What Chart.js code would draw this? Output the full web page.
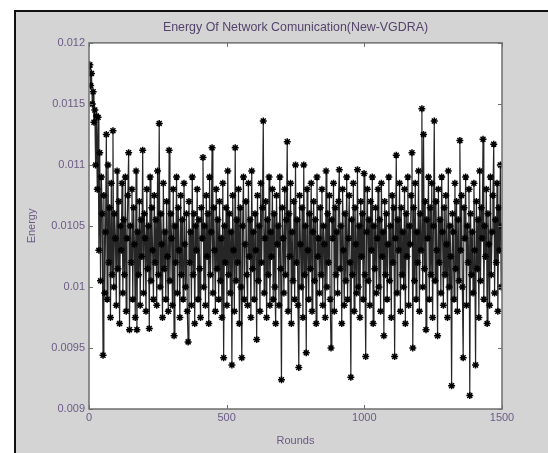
<!DOCTYPE html>
<html>
<head>
<meta charset="utf-8">
<script src="https://cdn.jsdelivr.net/npm/chart.js@4.4.1/dist/chart.umd.min.js"></script>
<style>
  html, body { margin: 0; padding: 0; background: #fff; }
  #wrap { position: relative; width: 548px; height: 453px; overflow: hidden; }
  #panel {
    position: absolute; left: 14px; top: 10px; right: 0; bottom: 0;
    background: #d4d4d4; border-left: 2px solid #111; border-top: 2px solid #111;
  }
  canvas { position: absolute; left: 0; top: 0; }
</style>
</head>
<body>
<div id="wrap">
  <div id="panel"></div>
  <canvas id="energyChart" width="548" height="453"></canvas>
</div>
<script>
// Rounds are sampled every 3 rounds, 0..1500
const ROUND_STEP = 3;

const energy = [
  0.01180, 0.01182, 0.01165, 0.01175, 0.01150, 0.01160, 0.01135, 0.01145, 0.01100, 0.01140,
  0.01080, 0.01139, 0.01030, 0.01110, 0.01005, 0.01090, 0.01060, 0.00944, 0.01075, 0.00995,
  0.01045, 0.01125, 0.00990, 0.01100, 0.01020, 0.01065, 0.00975, 0.01085, 0.01010, 0.01128,
  0.01000, 0.01060, 0.01040, 0.00985, 0.01095, 0.01015, 0.01070, 0.00970, 0.01050, 0.01030,
  0.01085, 0.00995, 0.01055, 0.01010, 0.01090, 0.00980, 0.01040, 0.01075, 0.01110, 0.00965,
  0.01050, 0.01020, 0.01080, 0.00990, 0.01065, 0.01035, 0.00975, 0.01095, 0.00965, 0.01045,
  0.01010, 0.01070, 0.00985, 0.01055, 0.01025, 0.01112, 0.00995, 0.01060, 0.01040, 0.00980,
  0.01080, 0.01015, 0.01050, 0.00966, 0.01090, 0.01005, 0.01065, 0.01030, 0.00990, 0.01075,
  0.01020, 0.01055, 0.00985, 0.01095, 0.01010, 0.01134, 0.01000, 0.01060, 0.01035, 0.00975,
  0.01085, 0.01015, 0.01045, 0.00990, 0.01070, 0.01025, 0.00980, 0.01112, 0.01005, 0.01060,
  0.01040, 0.00985, 0.01080, 0.00960, 0.01050, 0.01020, 0.01090, 0.00995, 0.01065, 0.01030,
  0.00975, 0.01075, 0.01010, 0.01055, 0.00990, 0.01085, 0.01035, 0.01000, 0.01060, 0.00980,
  0.00955, 0.01070, 0.01020, 0.01045, 0.00985, 0.01090, 0.01010, 0.01060, 0.00970, 0.01050,
  0.01030, 0.01080, 0.00990, 0.01055, 0.01015, 0.00975, 0.01065, 0.01040, 0.01106, 0.01000,
  0.01050, 0.00985, 0.01075, 0.01025, 0.01060, 0.00970, 0.01090, 0.01010, 0.01045, 0.01114,
  0.00995, 0.01065, 0.01030, 0.00980, 0.01080, 0.01015, 0.01055, 0.00990, 0.01070, 0.01005,
  0.01040, 0.00975, 0.01085, 0.00942, 0.01050, 0.01020, 0.01065, 0.00985, 0.01095, 0.01010,
  0.01060, 0.00995, 0.01045, 0.00936, 0.01075, 0.01030, 0.00980, 0.01114, 0.01005, 0.01055,
  0.01020, 0.01080, 0.00970, 0.01065, 0.01000, 0.00942, 0.01050, 0.01090, 0.00990, 0.01035,
  0.01070, 0.01010, 0.00985, 0.01085, 0.01025, 0.01055, 0.00975, 0.01095, 0.01015, 0.01045,
  0.00990, 0.01060, 0.01030, 0.00957, 0.01075, 0.01005, 0.01050, 0.00980, 0.01085, 0.01020,
  0.01065, 0.01136, 0.00995, 0.01040, 0.01070, 0.00975, 0.01055, 0.01010, 0.01090, 0.00985,
  0.01045, 0.01025, 0.01080, 0.00990, 0.01060, 0.01000, 0.00970, 0.01075, 0.01035, 0.01050,
  0.00985, 0.01090, 0.01015, 0.00924, 0.01065, 0.01040, 0.00995, 0.01080, 0.01010, 0.01055,
  0.01119, 0.00980, 0.01060, 0.01025, 0.01085, 0.00970, 0.01045, 0.01005, 0.01070, 0.00990,
  0.01100, 0.01020, 0.01055, 0.00985, 0.00934, 0.01075, 0.01035, 0.01000, 0.01065, 0.00975,
  0.01100, 0.01010, 0.01050, 0.00946, 0.01080, 0.01030, 0.00990, 0.01060, 0.01015, 0.01085,
  0.00980, 0.01045, 0.01070, 0.01005, 0.01055, 0.00970, 0.01090, 0.01025, 0.01040, 0.00995,
  0.01065, 0.01010, 0.01080, 0.00985, 0.01050, 0.01035, 0.00975, 0.01095, 0.01000, 0.01060,
  0.01020, 0.01075, 0.00990, 0.00950, 0.01055, 0.01040, 0.01085, 0.00980, 0.01065, 0.01010,
  0.01045, 0.00995, 0.01070, 0.01096, 0.01015, 0.01050, 0.00970, 0.01080, 0.01030, 0.00985,
  0.01060, 0.01005, 0.01090, 0.00990, 0.01040, 0.01075, 0.01020, 0.00926, 0.01055, 0.01010,
  0.01085, 0.00980, 0.01065, 0.01035, 0.00995, 0.01096, 0.01000, 0.01050, 0.00975, 0.01070,
  0.01025, 0.01060, 0.00990, 0.01093, 0.01010, 0.00943, 0.01045, 0.01080, 0.01005, 0.01055,
  0.00985, 0.01070, 0.01030, 0.01090, 0.00970, 0.01050, 0.01015, 0.01065, 0.00995, 0.01040,
  0.01080, 0.01000, 0.01055, 0.00980, 0.01085, 0.01025, 0.01045, 0.00960, 0.01070, 0.01010,
  0.01060, 0.00990, 0.01035, 0.01090, 0.01005, 0.01050, 0.00975, 0.01075, 0.01020, 0.01065,
  0.00943, 0.01040, 0.01108, 0.00995, 0.01055, 0.01030, 0.01085, 0.00980, 0.01065, 0.01010,
  0.01045, 0.01000, 0.01080, 0.00970, 0.01060, 0.01025, 0.01090, 0.00985, 0.01050, 0.01035,
  0.01075, 0.01110, 0.00950, 0.01065, 0.01005, 0.01085, 0.00990, 0.01045, 0.01020, 0.01095,
  0.00980, 0.01060, 0.01030, 0.01146, 0.01000, 0.01125, 0.01015, 0.01070, 0.00965, 0.01055,
  0.01040, 0.01090, 0.00990, 0.01065, 0.01010, 0.01085, 0.00975, 0.01050, 0.01136, 0.01005,
  0.01070, 0.01030, 0.00960, 0.01080, 0.01020, 0.01055, 0.00995, 0.01090, 0.01045, 0.00985,
  0.01065, 0.01010, 0.01075, 0.01035, 0.00975, 0.01095, 0.01000, 0.01050, 0.01025, 0.00919,
  0.01060, 0.01045, 0.00990, 0.01085, 0.01015, 0.01070, 0.00980, 0.01055, 0.01005, 0.01120,
  0.01030, 0.01075, 0.01000, 0.00942, 0.01065, 0.01040, 0.01090, 0.00985, 0.01050, 0.01020,
  0.01080, 0.00911, 0.01060, 0.01010, 0.01045, 0.00995, 0.01085, 0.01030, 0.00936, 0.01070,
  0.01015, 0.01055, 0.00975, 0.01095, 0.01005, 0.01065, 0.01040, 0.01121, 0.00990, 0.01050,
  0.01025, 0.01080, 0.00970, 0.01060, 0.01035, 0.00985, 0.01090, 0.01010, 0.01045, 0.01075,
  0.01117, 0.00995, 0.01055, 0.01020, 0.01085, 0.00980, 0.01065, 0.01030, 0.01100, 0.01000,
  0.01050
];

const xTicks = [0, 500, 1000, 1500];
const yTicks = [0.009, 0.0095, 0.01, 0.0105, 0.011, 0.0115, 0.012];
const yTickLabels = ["0.009", "0.0095", "0.01", "0.0105", "0.011", "0.0115", "0.012"];

const points = energy.map((v, i) => ({ x: i * ROUND_STEP, y: v }));

const FONT = "'Liberation Sans', Arial, sans-serif";
const textColor = "#6b5b86";

// White plot box + frame with inward ticks (MATLAB look)
const boxPlugin = {
    id: "box",
    beforeDatasetsDraw(chart) {
        const { ctx, chartArea: a } = chart;
        ctx.save();
        ctx.fillStyle = "#fff";
        ctx.fillRect(a.left, a.top, a.right - a.left, a.bottom - a.top);
        ctx.restore();
    },
    afterDraw(chart) {
        const { ctx, chartArea: a, scales } = chart;
        ctx.save();
        ctx.strokeStyle = "#6e6e6e";
        ctx.lineWidth = 1.5;
        ctx.strokeRect(a.left, a.top, a.right - a.left, a.bottom - a.top);
        ctx.lineWidth = 1;
        ctx.beginPath();
        xTicks.forEach(t => {
            const px = Math.round(scales.x.getPixelForValue(t)) + 0.5;
            ctx.moveTo(px, a.bottom); ctx.lineTo(px, a.bottom - 4);
            ctx.moveTo(px, a.top); ctx.lineTo(px, a.top + 4);
        });
        yTicks.forEach(t => {
            const py = Math.round(scales.y.getPixelForValue(t)) + 0.5;
            ctx.moveTo(a.left, py); ctx.lineTo(a.left + 4, py);
            ctx.moveTo(a.right, py); ctx.lineTo(a.right - 4, py);
        });
        ctx.stroke();
        ctx.restore();
    }
};

const ctx = document.getElementById("energyChart").getContext("2d");
new Chart(ctx, {
    type: "line",
    data: {
        datasets: [{
            label: "Energy",
            data: points,
            borderColor: "rgba(0,0,0,0.85)",
            borderWidth: 1.2,
            tension: 0,
            fill: false,
            pointStyle: "star",
            pointRadius: 3.5,
            pointBorderWidth: 1.5,
            pointBorderColor: "#000",
            pointBackgroundColor: "#000"
        }]
    },
    options: {
        responsive: false,
        animation: false,
        layout: { padding: { left: 0, right: 46, top: 0, bottom: 0 } },
        plugins: {
            legend: { display: false },
            tooltip: { enabled: false },
            title: {
                display: true,
                fullSize: false,
                text: "Energy Of Network Comunication(New-VGDRA)",
                color: "#54446c",
                font: { family: FONT, size: 12.4, weight: "normal" },
                padding: { top: 20, bottom: 8 }
            }
        },
        scales: {
            x: {
                type: "linear",
                min: 0,
                max: 1500,
                afterFit: s => { s.height = 44; },
                afterBuildTicks: s => { s.ticks = xTicks.map(v => ({ value: v })); },
                grid: { display: false, drawTicks: false },
                border: { display: false },
                ticks: {
                    color: textColor,
                    padding: 2,
                    maxRotation: 0,
                    font: { family: FONT, size: 11 },
                    callback: v => String(v)
                },
                title: {
                    display: true,
                    text: "Rounds",
                    color: textColor,
                    font: { family: FONT, size: 11 },
                    padding: { top: 0, bottom: 5 }
                }
            },
            y: {
                type: "linear",
                min: 0.009,
                max: 0.012,
                afterFit: s => { s.width = 89; },
                afterBuildTicks: s => { s.ticks = yTicks.map(v => ({ value: v })); },
                grid: { display: false, drawTicks: false },
                border: { display: false },
                ticks: {
                    color: textColor,
                    padding: 4,
                    font: { family: FONT, size: 11 },
                    callback: (v, i) => yTickLabels[i]
                },
                title: {
                    display: true,
                    text: "Energy",
                    color: textColor,
                    font: { family: FONT, size: 11 },
                    padding: { top: 25, bottom: 0 }
                }
            }
        }
    },
    plugins: [boxPlugin]
});
</script>
</body>
</html>
